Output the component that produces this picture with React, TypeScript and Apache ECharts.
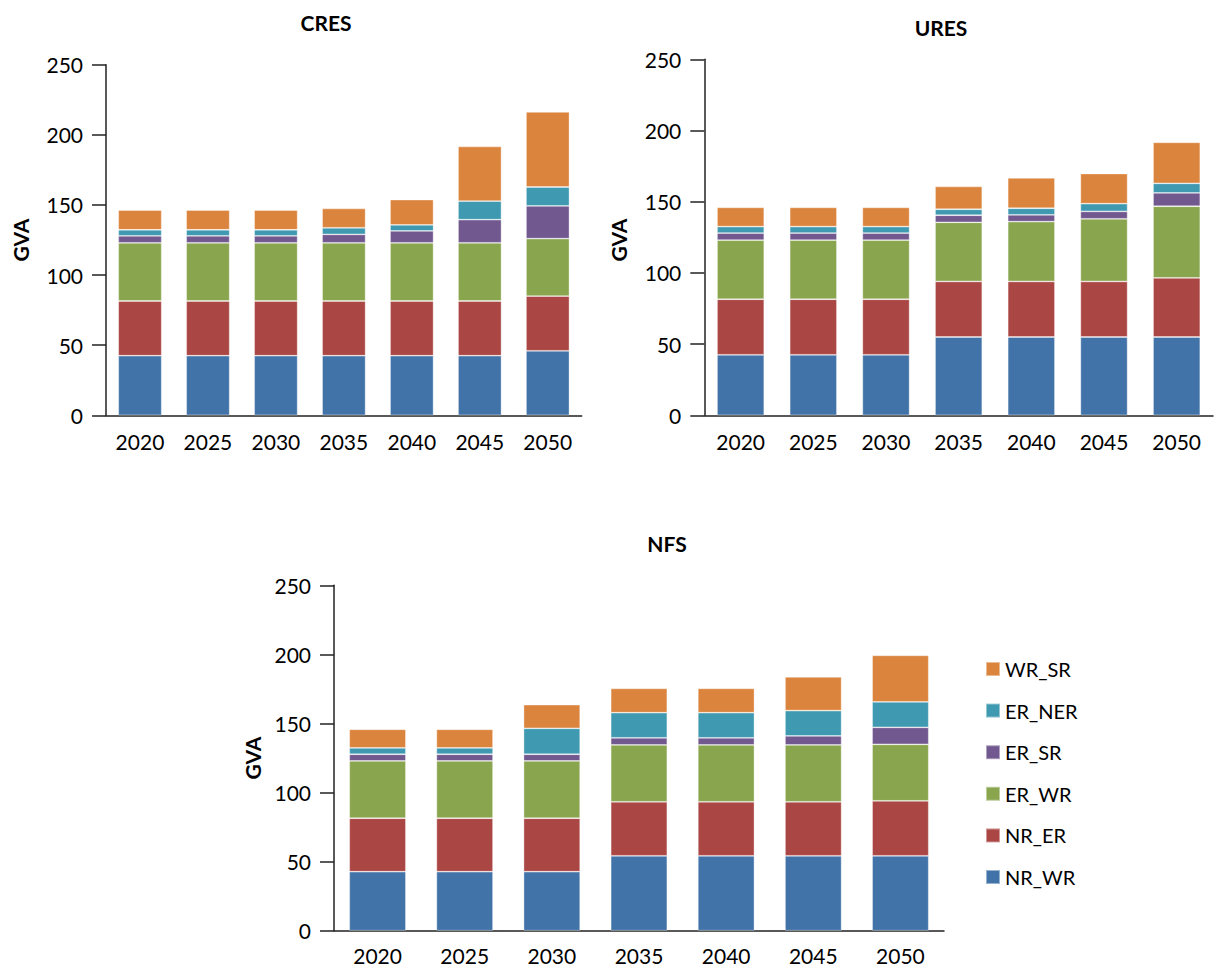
import React, { useEffect, useRef } from "react";
import * as echarts from "echarts";

const years = ["2020", "2025", "2030", "2035", "2040", "2045", "2050"];
const seriesNames = ["NR_WR", "NR_ER", "ER_WR", "ER_SR", "ER_NER", "WR_SR"];
const colors = ["#4273A8", "#AA4643", "#89A54E", "#71588F", "#3F99B0", "#DB843D"];
const yTicks = [0, 50, 100, 150, 200, 250];

// CRES
const cresNR_WR = [42.5, 42.5, 42.5, 42.5, 42.5, 42.5, 46];
const cresNR_ER = [39, 39, 39, 39, 39, 39, 39];
const cresER_WR = [41.5, 41.5, 41.5, 41.5, 41.5, 41.5, 41];
const cresER_SR = [5, 5, 5, 6, 8.5, 16.5, 23.3];
const cresER_NER = [4.3, 4.3, 4.3, 4.7, 4.3, 13.2, 13.5];
const cresWR_SR = [14, 14, 14, 13.8, 18, 39, 53.5];

// URES
const uresNR_WR = [42.5, 42.5, 42.5, 55, 55, 55, 55];
const uresNR_ER = [39, 39, 39, 39, 39, 39, 41.5];
const uresER_WR = [41.5, 41.5, 41.5, 41.5, 42, 44, 50.3];
const uresER_SR = [5, 5, 5, 5, 4.8, 5.2, 9.4];
const uresER_NER = [4.5, 4.5, 4.5, 4.2, 4.6, 5.4, 6.7];
const uresWR_SR = [13.5, 13.5, 13.5, 16, 21.3, 21.2, 28.8];

// NFS
const nfsNR_WR = [42.7, 42.7, 42.7, 54.2, 54.2, 54.2, 54.2];
const nfsNR_ER = [38.7, 38.7, 38.7, 39.1, 39.1, 39.1, 39.8];
const nfsER_WR = [41.5, 41.5, 41.5, 41.2, 41.2, 41.2, 40.9];
const nfsER_SR = [4.8, 4.8, 4.8, 5.1, 5.1, 6.5, 12.3];
const nfsER_NER = [4.6, 4.6, 18.8, 18.2, 18.2, 18.3, 18.4];
const nfsWR_SR = [13.5, 13.5, 17.1, 17.6, 17.6, 24.4, 33.7];

const panels = [
  { title: "CRES", data: [cresNR_WR, cresNR_ER, cresER_WR, cresER_SR, cresER_NER, cresWR_SR] },
  { title: "URES", data: [uresNR_WR, uresNR_ER, uresER_WR, uresER_SR, uresER_NER, uresWR_SR] },
  { title: "NFS", data: [nfsNR_WR, nfsNR_ER, nfsER_WR, nfsER_SR, nfsER_NER, nfsWR_SR] },
];

const FONT = "Lato, 'Open Sans', sans-serif";
const AXIS_COLOR = "#222";

export default function App() {
  const ref = useRef<HTMLDivElement>(null);
  useEffect(() => {
    document.body.style.margin = "0";
    if (!ref.current) return;
    const chart = echarts.init(ref.current, null, { renderer: "svg" });

    const grids = [
      { left: 106, top: 64.7, width: 475.7, height: 350.6, gap: "36%", labelMargin: 16, titleX: 326, titleY: 22, gvaX: 20, gvaY: 240 },
      { left: 704.3, top: 59.3, width: 508.7, height: 356, gap: "35%", labelMargin: 16, titleX: 941, titleY: 27, gvaX: 618, gvaY: 240 },
      { left: 334, top: 585.3, width: 610, height: 345.4, gap: "35%", labelMargin: 14, titleX: 667, titleY: 543, gvaX: 252, gvaY: 758 },
    ];

    const series: any[] = [];
    panels.forEach((p, gi) => {
      seriesNames.forEach((name, si) => {
        series.push({
          type: "bar",
          name,
          stack: "s" + gi,
          xAxisIndex: gi,
          yAxisIndex: gi,
          data: p.data[si],
          barCategoryGap: grids[gi].gap,
          itemStyle: { color: colors[si], borderColor: "rgba(255,255,255,0.45)", borderWidth: 0.8 },
        });
      });
    });

    const graphics: any[] = [];
    panels.forEach((p, gi) => {
      const g = grids[gi];
      graphics.push({
        type: "text",
        x: g.titleX,
        y: g.titleY,
        style: { text: p.title, font: `bold 21px ${FONT}`, fill: "#000", textAlign: "center", textVerticalAlign: "middle" },
      });
      graphics.push({
        type: "text",
        x: g.gvaX,
        y: g.gvaY,
        rotation: Math.PI / 2,
        style: { text: "GVA", font: `bold 21px ${FONT}`, fill: "#000", textAlign: "center", textVerticalAlign: "middle" },
      });
    });

    chart.setOption({
      animation: false,
      textStyle: { fontFamily: FONT },
      color: colors,
      grid: grids.map((g) => ({ left: g.left, top: g.top, width: g.width, height: g.height, containLabel: false })),
      xAxis: grids.map((g, i) => ({
        type: "category",
        gridIndex: i,
        data: years,
        axisLine: { show: true, lineStyle: { color: AXIS_COLOR, width: 1.5 } },
        axisTick: { show: false },
        axisLabel: { color: "#000", fontSize: 21, fontFamily: FONT, margin: g.labelMargin },
      })),
      yAxis: grids.map((g, i) => ({
        type: "value",
        gridIndex: i,
        min: yTicks[0],
        max: yTicks[yTicks.length - 1],
        interval: 50,
        splitLine: { show: false },
        axisLine: { show: true, lineStyle: { color: AXIS_COLOR, width: 1.5 } },
        axisTick: { show: true, length: 14, lineStyle: { color: AXIS_COLOR, width: 1.5 } },
        axisLabel: { color: "#000", fontSize: 21, fontFamily: FONT, margin: 23 },
      })),
      legend: {
        orient: "vertical",
        left: 980,
        top: 654,
        itemWidth: 14,
        itemHeight: 14,
        itemGap: 21.6,
        icon: "rect",
        data: seriesNames.slice().reverse(),
        textStyle: { fontSize: 20, color: "#000", fontFamily: FONT, lineHeight: 20 },
      },
      graphic: graphics,
      series,
    });
    return () => chart.dispose();
  }, []);
  return <div ref={ref} style={{ width: 1221, height: 974 }} />;
}
